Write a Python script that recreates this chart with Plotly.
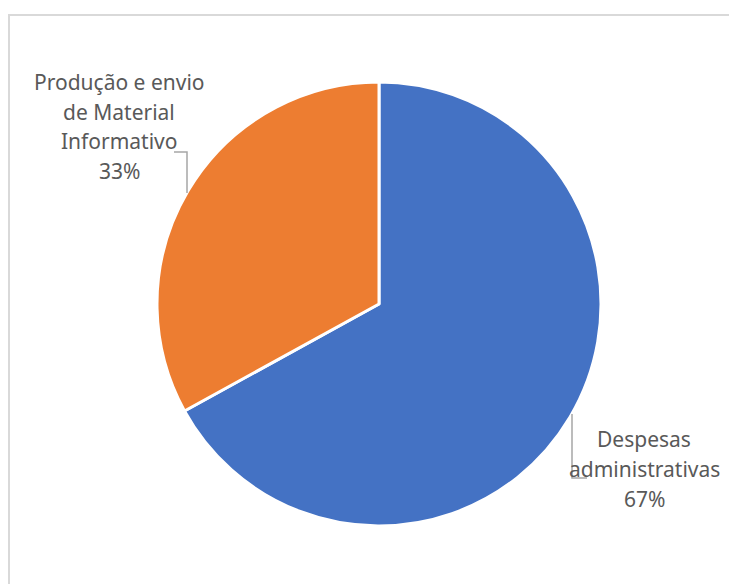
import plotly.graph_objects as go

labels = ["Despesas administrativas", "Produção e envio de Material Informativo"]
values = [67, 33]
colors = ["#4472C4", "#ED7D31"]
label_lines = [["Despesas", "administrativas", "67%"],
               ["Produção e envio", "de Material", "Informativo", "33%"]]

OFF = 8  # page body margin
W, H = 737 - OFF, 584 - OFF
cx, cy, r = 379 - OFF, 304 - OFF, 222

fig = go.Figure(go.Pie(
    labels=labels, values=values, sort=False, direction="clockwise", rotation=0,
    marker=dict(colors=colors, line=dict(color="white", width=3)),
    textinfo="none", hoverinfo="label+percent", showlegend=False,
    domain=dict(x=[(cx - r) / W, (cx + r) / W], y=[(H - cy - r) / H, (H - cy + r) / H]),
))

def px(x): return (x - OFF) / W
def py(y): return 1 - (y - OFF) / H

font = dict(family="Noto Sans, sans-serif", size=21, color="#595959")
anns = []
for i, t in enumerate(label_lines[0]):
    anns.append(dict(x=px(644), y=py(439 + 30 * i), xref="paper", yref="paper", text=t,
                     showarrow=False, xanchor="center", yanchor="middle", font=font))
for i, t in enumerate(label_lines[1]):
    anns.append(dict(x=px(119), y=py(82 + 29.5 * i), xref="paper", yref="paper", text=t,
                     showarrow=False, xanchor="center", yanchor="middle", font=font))

lc = dict(color="#A6A6A6", width=1.5)
shapes = [
    dict(type="rect", xref="paper", yref="paper", x0=px(9), x1=px(760), y0=py(610), y1=py(15),
         line=dict(color="#D9D9D9", width=2), fillcolor="rgba(0,0,0,0)"),
    dict(type="path", xref="paper", yref="paper",
         path=f"M {px(174)} {py(152)} L {px(187)} {py(152)} L {px(187)} {py(193)}", line=lc),
    dict(type="path", xref="paper", yref="paper",
         path=f"M {px(572)} {py(414)} L {px(572)} {py(478)} L {px(587)} {py(478)}", line=lc),
]

fig.update_layout(width=W, height=H, margin=dict(l=0, r=0, t=0, b=0),
                  paper_bgcolor="white", plot_bgcolor="white",
                  annotations=anns, shapes=shapes)
fig.write_html("out.html", config={"displayModeBar": False})
